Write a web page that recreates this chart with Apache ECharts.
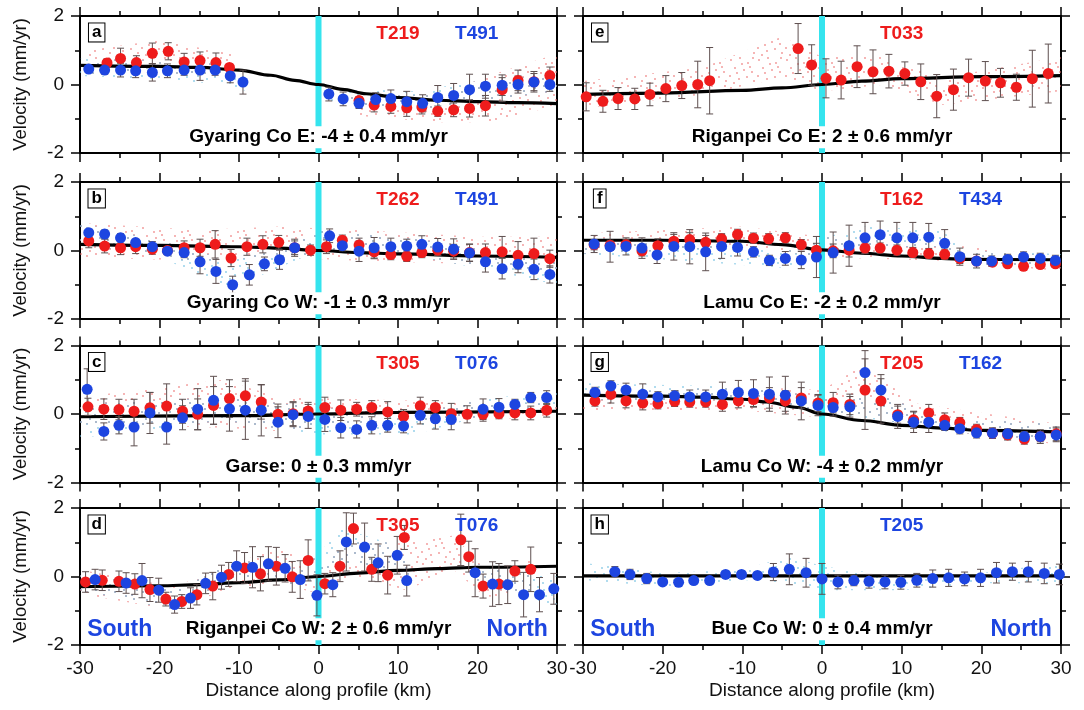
<!DOCTYPE html>
<html><head><meta charset="utf-8">
<script src="https://cdn.jsdelivr.net/npm/echarts@6/dist/echarts.min.js"></script>
<style>html,body{margin:0;padding:0;background:#fff}#c{width:1084px;height:710px}</style>
</head><body><div id="c"></div>
<script>
// ---------- axes ----------
const X_RANGE = [-30, 30];
const Y_RANGE = [-2, 2];
const X_STEP = 10;
const Y_STEP = 2;
const X_NAME = 'Distance along profile (km)';
const Y_NAME = 'Velocity (mm/yr)';

// ---------- panel a ----------
const aRed = [[-26.6,0.63,0.12],[-24.9,0.76,0.3],[-22.9,0.64,0.2],[-20.9,0.91,0.3],[-18.9,0.97,0.25],[-16.9,0.66,0.25],[-14.9,0.7,0.25],[-12.9,0.64,0.28],[-11.2,0.5,0.1],
 [5.1,-0.47,0.12],[7.0,-0.6,0.2],[9.1,-0.64,0.2],[11.1,-0.68,0.25],[13.0,-0.66,0.2],[15.0,-0.78,0.15],[17.0,-0.74,0.2],[19.0,-0.7,0.25],[21.0,-0.62,0.3],[23.1,-0.15,0.35],[25.1,0.12,0.3],[27.1,0.08,0.3],[29.1,0.26,0.25]];
const aBlue = [[-28.9,0.45,0.1],[-26.9,0.42,0.12],[-24.9,0.42,0.2],[-23.0,0.4,0.2],[-20.9,0.35,0.25],[-19.0,0.4,0.2],[-16.9,0.42,0.15],[-14.9,0.42,0.3],[-13.0,0.42,0.15],[-11.1,0.25,0.2],[-9.5,0.07,0.35],
 [1.3,-0.28,0.2],[3.1,-0.42,0.2],[5.1,-0.55,0.15],[7.2,-0.44,0.2],[9.1,-0.41,0.25],[11.1,-0.5,0.3],[13.1,-0.55,0.25],[15.0,-0.38,0.35],[17.0,-0.32,0.35],[19.0,-0.15,0.45],[21.0,-0.05,0.35],[23.1,-0.02,0.3],[25.1,0.0,0.25],[27.1,0.07,0.25],[29.1,0.0,0.2]];
const aModel = [[-30,0.56],[-20,0.53],[-15,0.5],[-10,0.42],[-6,0.27],[-3,0.12],[0,0],[3,-0.14],[6,-0.27],[10,-0.38],[15,-0.46],[20,-0.5],[25,-0.53],[30,-0.56]];
const aRedCloud = [[[-29,0.3,1.0],[-20,0.3,1.3],[-11,0.2,0.9]],[[4,-0.9,-0.3],[15,-1.1,-0.3],[22,-1.1,0.3],[30,-0.6,0.9]]];
const aBlueCloud = [[[-30,0.25,0.75],[-20,0.15,0.7],[-12,0.0,0.6],[-9,-0.2,0.3]],[[1,-0.5,-0.1],[12,-0.8,-0.2],[20,-0.5,0.1],[30,-0.2,0.3]]];

// ---------- panel b ----------
const bRed = [[-28.9,0.28,0.2],[-26.9,0.13,0.2],[-24.9,0.08,0.2],[-23.0,0.11,0.2],[-20.9,0.04,0.15],[-19.0,0.0,0.12],[-16.9,0.08,0.2],[-14.9,0.08,0.25],[-13.0,0.18,0.4],[-11.0,-0.22,0.25],[-9.0,0.11,0.25],[-7.0,0.18,0.25],[-5.0,0.24,0.2],[-3.0,0.08,0.2],[-1.0,0.01,0.15],[1.0,0.11,0.2],[3.0,0.3,0.15],[5.1,0.16,0.2],[7.0,-0.04,0.2],[9.1,-0.12,0.15],[11.1,-0.17,0.15],[13.0,-0.06,0.15],[15.0,0.01,0.15],[17.0,-0.02,0.2],[19.0,-0.06,0.25],[21.0,-0.06,0.25],[23.1,-0.04,0.45],[25.1,-0.14,0.4],[27.1,-0.09,0.45],[29.1,-0.24,0.25]];
const bBlue = [[-28.9,0.52,0.1],[-26.9,0.48,0.12],[-24.9,0.37,0.12],[-23.0,0.23,0.1],[-20.9,0.11,0.15],[-19.0,-0.02,0.1],[-16.9,-0.06,0.15],[-14.9,-0.33,0.35],[-12.9,-0.61,0.35],[-10.8,-1.0,0.25],[-8.7,-0.71,0.3],[-6.8,-0.39,0.2],[-4.9,-0.27,0.28],[-3.0,0.08,0.25],[1.4,0.43,0.2],[3.0,0.14,0.15],[5.1,-0.02,0.3],[7.0,0.08,0.3],[9.1,0.11,0.25],[11.1,0.13,0.2],[13.0,0.18,0.25],[15.0,0.1,0.25],[17.0,0.04,0.3],[19.0,-0.07,0.25],[21.0,-0.33,0.3],[23.1,-0.53,0.3],[25.1,-0.4,0.25],[27.1,-0.55,0.3],[29.1,-0.7,0.25]];
const bModel = [[-30,0.18],[-20,0.15],[-10,0.11],[-5,0.07],[0,0.0],[5,-0.06],[10,-0.1],[20,-0.16],[30,-0.2]];
const bRedCloud = [[[-30,-0.2,0.8],[-15,-0.3,0.6],[-5,-0.2,0.7],[5,-0.3,0.6],[20,-0.4,0.4],[30,-0.6,0.4]]];
const bBlueCloud = [[[-30,0.2,0.8],[-20,-0.2,0.3],[-11,-1.1,-0.3],[-5,-0.5,0.1],[0,0,0.6],[10,-0.1,0.4],[20,-0.5,0.1],[30,-1.0,-0.3]]];

// ---------- panel c ----------
const cRed = [[-29.0,0.21,0.25],[-27.0,0.14,0.3],[-25.1,0.13,0.3],[-23.2,0.08,0.35],[-21.2,0.18,0.45],[-19.1,0.23,0.65],[-17.1,0.08,0.35],[-15.2,-0.01,0.45],[-13.2,0.25,0.55],[-11.2,0.45,0.55],[-9.2,0.53,0.5],[-7.2,0.35,0.5],[-5.1,-0.01,0.3],[-3.2,0.01,0.35],[-1.3,0.09,0.25],[0.8,0.19,0.3],[2.8,0.11,0.3],[4.8,0.14,0.2],[6.7,0.19,0.2],[8.7,0.06,0.3],[10.7,-0.07,0.2],[12.8,0.24,0.25],[14.7,0.19,0.2],[16.7,0.01,0.3],[18.7,-0.01,0.25],[20.7,-0.01,0.2],[22.7,0.01,0.15],[24.7,0.03,0.2],[26.7,0.03,0.2],[28.7,0.11,0.2]];
const cBlue = [[-29.1,0.72,0.6],[-27.0,-0.51,0.25],[-25.1,-0.33,0.25],[-23.2,-0.38,0.55],[-21.2,0.03,0.6],[-19.1,-0.38,0.5],[-17.1,-0.11,0.35],[-15.2,0.14,0.6],[-13.2,0.4,0.7],[-11.2,0.15,0.65],[-9.2,0.11,0.85],[-7.2,0.11,0.75],[-5.1,-0.24,0.45],[-3.2,-0.02,0.35],[-1.3,-0.07,0.35],[0.8,-0.16,0.35],[2.8,-0.4,0.3],[4.8,-0.45,0.25],[6.7,-0.33,0.25],[8.7,-0.33,0.2],[10.7,-0.35,0.2],[12.8,-0.04,0.25],[14.7,-0.14,0.3],[16.7,-0.16,0.3],[20.7,0.14,0.3],[22.7,0.2,0.25],[24.7,0.28,0.15],[26.7,0.48,0.15],[28.7,0.48,0.2]];
const cModel = [[-30,-0.08],[-10,-0.05],[0,0],[10,0.05],[30,0.08]];
const cRedCloud = [[[-30,-0.3,0.5],[-12,-0.4,1.0],[-5,-0.5,0.5],[10,-0.2,0.4],[30,-0.1,0.3]]];
const cBlueCloud = [[[-30,-0.7,0.3],[-12,-0.2,0.5],[0,-0.6,0.2],[12,-0.6,0],[20,-0.1,0.4],[30,0.2,0.7]]];

// ---------- panel d ----------
const dRed = [[-29.3,-0.16,0.3],[-27.2,-0.11,0.3],[-25.1,-0.14,0.3],[-23.1,-0.22,0.3],[-21.2,-0.38,0.35],[-19.2,-0.66,0.2],[-17.2,-0.73,0.2],[-15.3,-0.53,0.3],[-13.3,-0.28,0.4],[-11.3,0.06,0.35],[-9.3,0.25,0.45],[-7.3,0.08,0.5],[-5.3,0.3,0.55],[-3.3,-0.01,0.45],[-1.3,0.47,0.6],[0.8,-0.21,0.3],[2.7,0.3,0.45],[4.4,1.4,0.45],[6.7,0.21,0.35],[8.7,0.04,0.55],[10.8,1.14,0.35],[17.9,1.07,0.75],[18.9,0.58,0.45],[20.7,-0.28,0.35],[22.7,-0.22,0.6],[24.7,0.16,0.3],[26.7,0.21,0.65]];
const dBlue = [[-28.1,-0.09,0.3],[-24.2,-0.19,0.3],[-22.2,-0.12,0.5],[-20.1,-0.4,0.35],[-18.1,-0.82,0.25],[-16.1,-0.63,0.3],[-14.2,-0.2,0.3],[-12.2,-0.02,0.35],[-10.3,0.3,0.45],[-8.3,0.27,0.6],[-6.3,0.37,0.5],[-4.2,0.24,0.4],[-2.3,-0.09,0.55],[-0.2,-0.55,0.6],[1.8,-0.24,0.35],[3.5,1.01,0.85],[5.8,0.86,0.7],[7.5,0.4,0.55],[9.9,0.62,0.55],[11.1,-0.12,0.45],[19.7,0.11,0.7],[21.9,-0.22,0.65],[23.8,-0.24,0.55],[25.8,-0.53,0.65],[27.8,-0.53,0.5],[29.6,-0.36,0.45]];
const dModel = [[-30,-0.3],[-20,-0.27],[-15,-0.24],[-10,-0.18],[-5,-0.1],[0,0],[5,0.1],[10,0.18],[15,0.23],[20,0.27],[30,0.3]];
const dRedCloud = [[[-30,-0.5,0.2],[-18,-1.0,-0.3],[-12,-0.4,0.3],[-5,-0.2,0.8],[0,-0.5,0.5],[5,0,1.0],[11,-0.4,1.0],[17,0.2,1.2],[21,-0.6,0.2],[27,-0.5,0.5]]];
const dBlueCloud = [[[-30,-0.4,0.1],[-18,-1.0,-0.4],[-10,0,0.5],[-2,-0.3,0.2],[3,0.4,1.4],[10,0.2,0.9],[12,-0.4,0.1]],[[19,-0.1,0.4],[30,-0.9,0]]];

// ---------- panel e ----------
const eRed = [[-29.6,-0.36,0.41],[-27.5,-0.49,0.32],[-25.6,-0.41,0.32],[-23.5,-0.42,0.31],[-21.6,-0.29,0.33],[-19.6,-0.12,0.38],[-17.6,-0.03,0.38],[-15.6,0.0,0.68],[-14.1,0.11,0.97],[-3.0,1.05,0.73],[-1.3,0.57,0.59],[0.5,0.18,0.57],[2.4,0.13,0.55],[4.4,0.52,0.61],[6.4,0.37,0.64],[8.4,0.39,0.49],[10.4,0.32,0.34],[12.4,0.08,0.52],[14.4,-0.34,0.63],[16.5,-0.15,0.6],[18.4,0.2,0.54],[20.5,0.1,0.57],[22.4,0.05,0.42],[24.4,-0.08,0.38],[26.4,0.17,0.83],[28.4,0.32,0.86]];
const eBlue = [];
const eModel = [[-30,-0.29],[-20,-0.25],[-10,-0.17],[-5,-0.1],[0,0],[5,0.1],[10,0.17],[20,0.23],[30,0.26]];
const eRedCloud = [[[-30,-0.7,0.1],[-15,-0.3,0.5],[-5,0.2,1.4],[0,-0.2,0.8],[8,0,0.8],[15,-0.6,0.2],[30,-0.2,0.8]]];
const eBlueCloud = [];

// ---------- panel f ----------
const fRed = [[-28.6,0.17,0.15],[-26.6,0.15,0.15],[-24.6,0.17,0.15],[-22.6,-0.01,0.15],[-20.6,0.14,0.2],[-18.6,0.27,0.2],[-16.6,0.32,0.2],[-14.6,0.24,0.2],[-12.6,0.34,0.15],[-10.6,0.47,0.15],[-8.6,0.36,0.15],[-6.7,0.34,0.15],[-4.6,0.37,0.15],[-2.6,0.17,0.15],[-0.7,0.01,0.2],[1.4,-0.01,0.2],[3.4,0.01,0.2],[5.4,0.07,0.15],[7.3,0.07,0.15],[9.4,0.01,0.15],[11.4,-0.06,0.15],[13.4,-0.09,0.15],[15.4,-0.11,0.15],[17.3,-0.23,0.15],[19.4,-0.31,0.1],[21.4,-0.34,0.1],[23.3,-0.39,0.1],[25.3,-0.46,0.1],[27.4,-0.41,0.1],[29.3,-0.39,0.1]];
const fBlue = [[-28.6,0.19,0.25],[-26.6,0.11,0.45],[-24.6,0.12,0.25],[-22.6,0.07,0.3],[-20.7,-0.13,0.25],[-18.6,0.12,0.4],[-16.6,0.11,0.5],[-14.6,-0.04,0.55],[-12.6,0.12,0.35],[-10.6,0.09,0.25],[-8.6,-0.04,0.15],[-6.6,-0.29,0.15],[-4.6,-0.23,0.2],[-2.6,-0.28,0.25],[-0.7,-0.19,0.6],[1.4,-0.06,0.6],[3.4,0.14,0.6],[5.4,0.37,0.45],[7.3,0.46,0.4],[9.4,0.37,0.45],[11.4,0.37,0.45],[13.4,0.39,0.4],[15.4,0.21,0.4],[17.3,-0.18,0.25],[19.4,-0.31,0.2],[21.3,-0.31,0.15],[23.3,-0.26,0.15],[25.3,-0.19,0.15],[27.4,-0.23,0.15],[29.3,-0.29,0.15]];
const fModel = [[-30,0.3],[-20,0.3],[-10,0.27],[-5,0.17],[0,0.02],[5,-0.08],[10,-0.16],[15,-0.23],[18,-0.26],[30,-0.27]];
const fRedCloud = [[[-30,-0.1,0.5],[-10,0.1,0.7],[0,-0.2,0.4],[15,-0.3,0.2],[30,-0.6,-0.2]]];
const fBlueCloud = [[[-30,-0.1,0.4],[-5,-0.5,0],[5,0.1,0.7],[15,0.1,0.6],[18,-0.4,0],[30,-0.5,-0.1]]];

// ---------- panel g ----------
const gRed = [[-28.5,0.38,0.15],[-26.5,0.57,0.25],[-24.6,0.38,0.2],[-22.5,0.32,0.2],[-20.6,0.3,0.15],[-18.5,0.37,0.15],[-16.6,0.35,0.15],[-14.6,0.35,0.15],[-12.5,0.28,0.2],[-10.5,0.38,0.2],[-8.6,0.42,0.2],[-6.6,0.47,0.3],[-4.6,0.38,0.3],[-2.6,0.47,0.3],[-0.5,0.32,0.25],[1.4,0.33,0.3],[3.5,0.28,0.3],[5.4,0.7,1.15],[7.4,0.38,0.65],[9.5,-0.02,0.25],[11.5,-0.17,0.25],[13.4,0.03,0.25],[15.4,-0.17,0.2],[17.3,-0.25,0.15],[19.4,-0.45,0.15],[21.4,-0.56,0.15],[23.3,-0.61,0.15],[25.4,-0.73,0.15],[27.4,-0.66,0.15],[29.4,-0.58,0.2]];
const gBlue = [[-28.5,0.63,0.15],[-26.5,0.82,0.15],[-24.6,0.7,0.2],[-22.5,0.58,0.3],[-20.6,0.5,0.15],[-18.5,0.53,0.15],[-16.6,0.5,0.2],[-14.6,0.5,0.2],[-12.5,0.58,0.35],[-10.5,0.63,0.35],[-8.6,0.6,0.4],[-6.6,0.58,0.5],[-4.6,0.55,0.55],[-2.6,0.38,0.55],[-0.5,0.25,0.3],[1.4,0.19,0.25],[3.5,0.21,0.3],[5.4,1.21,0.4],[7.4,0.7,0.45],[9.5,-0.07,0.35],[11.5,-0.24,0.3],[13.4,-0.24,0.3],[15.4,-0.33,0.15],[17.3,-0.43,0.15],[19.4,-0.55,0.15],[21.4,-0.56,0.15],[23.3,-0.58,0.15],[25.4,-0.66,0.15],[27.4,-0.66,0.2],[29.4,-0.61,0.2]];
const gModel = [[-30,0.55],[-20,0.52],[-15,0.49],[-10,0.43],[-7,0.35],[-3,0.19],[0,0.0],[5,-0.19],[10,-0.33],[15,-0.41],[20,-0.48],[30,-0.53]];
const gRedCloud = [[[-30,0.1,0.6],[-10,0.1,0.8],[0,-0.1,0.7],[5,0,1.4],[12,-0.4,0.3],[30,-0.9,-0.3]]];
const gBlueCloud = [[[-30,0.4,0.9],[-10,0.4,0.8],[0,0,0.5],[8,-0.2,0.5],[15,-0.5,-0.1],[30,-0.8,-0.3]]];

// ---------- panel h ----------
const hRed = [];
const hBlue = [[-26.0,0.14,0.15],[-24.1,0.06,0.15],[-22.0,-0.06,0.15],[-20.0,-0.16,0.05],[-18.0,-0.17,0.05],[-16.1,-0.12,0.05],[-14.1,-0.12,0.05],[-12.1,0.06,0.08],[-10.1,0.06,0.1],[-8.1,0.03,0.05],[-6.1,0.13,0.25],[-4.1,0.21,0.45],[-2.0,0.11,0.42],[0,-0.07,0.45],[2.0,-0.16,0.2],[4.0,-0.12,0.15],[5.9,-0.14,0.2],[7.9,-0.16,0.2],[9.9,-0.17,0.2],[11.9,-0.11,0.2],[13.9,-0.06,0.25],[15.9,-0.04,0.25],[17.9,-0.07,0.2],[19.9,-0.04,0.25],[21.9,0.11,0.3],[23.9,0.14,0.25],[25.9,0.14,0.3],[27.9,0.09,0.3],[29.8,0.06,0.3]];
const hModel = [[-30,0.02],[30,0.02]];
const hRedCloud = [];
const hBlueCloud = [[[-30,-0.1,0.4],[-20,-0.3,0.1],[-10,-0.1,0.2],[-4,-0.2,0.6],[0,-0.4,0.3],[10,-0.4,0],[20,-0.2,0.1],[30,-0.2,0.4]]];

// ---------- fault trace (x = 0) ----------
const faultTrace = [[0, -2], [0, 2]];

// ---------- annotations ----------
const letters = ['a','b','c','d','e','f','g','h'];
const titles = ['Gyaring Co E: -4 ± 0.4 mm/yr','Gyaring Co W: -1 ± 0.3 mm/yr','Garse: 0 ± 0.3 mm/yr','Riganpei Co W: 2 ± 0.6 mm/yr',
                'Riganpei Co E: 2 ± 0.6 mm/yr','Lamu Co E: -2 ± 0.2 mm/yr','Lamu Co W: -4 ± 0.2 mm/yr','Bue Co W: 0 ± 0.4 mm/yr'];
const redTracks = ['T219','T262','T305','T305','T033','T162','T205',''];
const blueTracks = ['T491','T491','T076','T076','','T434','T162','T205'];
const dirLabels = ['South','North'];

// ---------- build ----------
const RED = '#ee1c1c', BLUE = '#1d45e0', ERR = '#5e4f4f', CYAN = '#35e4ee';
const FONT = 'Liberation Sans, Arial, Helvetica, sans-serif';
const reds = [aRed,bRed,cRed,dRed,eRed,fRed,gRed,hRed];
const blues = [aBlue,bBlue,cBlue,dBlue,eBlue,fBlue,gBlue,hBlue];
const models = [aModel,bModel,cModel,dModel,eModel,fModel,gModel,hModel];
const redClouds = [aRedCloud,bRedCloud,cRedCloud,dRedCloud,eRedCloud,fRedCloud,gRedCloud,hRedCloud];
const blueClouds = [aBlueCloud,bBlueCloud,cBlueCloud,dBlueCloud,eBlueCloud,fBlueCloud,gBlueCloud,hBlueCloud];

function makePattern(color) {
  const c = document.createElement('canvas');
  c.width = 28; c.height = 28;
  const ctx = c.getContext('2d');
  ctx.fillStyle = color;
  const spots = [[3,4],[12,2],[20,7],[25,2],[7,12],[16,14],[24,16],[2,20],[11,23],[19,21],[26,25],[6,27],[14,8],[9,17],[22,11]];
  spots.forEach(p => { ctx.beginPath(); ctx.arc(p[0], p[1], 0.9, 0, Math.PI * 2); ctx.fill(); });
  return { image: c, repeat: 'repeat' };
}
const redPat = makePattern('rgba(236,110,110,0.75)');
const bluePat = makePattern('rgba(110,190,225,0.8)');

const COL_LEFT = [80, 583], COL_W = [477, 478];
const ROW_TOP = [16, 182, 345.5, 508], ROW_H = 137;

const grids = [], xAxes = [], yAxes = [], series = [];
const axisLine = { show: true, onZero: false, lineStyle: { color: '#000', width: 2 } };
for (let i = 0; i < 8; i++) {
  const col = i < 4 ? 0 : 1, row = i % 4;
  grids.push({ left: COL_LEFT[col], top: ROW_TOP[row], width: COL_W[col], height: ROW_H });
  const bottomRow = row === 3, leftCol = col === 0;
  const xBase = { type: 'value', gridIndex: i, min: X_RANGE[0], max: X_RANGE[1], interval: X_STEP,
    axisLine, splitLine: { show: false },
    axisTick: { show: true, length: 9, lineStyle: { color: '#000', width: 1.5 } },
    minorTick: { show: true, splitNumber: 2, length: 5, lineStyle: { color: '#000', width: 1.5 } } };
  xAxes.push(Object.assign({}, xBase, { position: 'bottom',
    axisLabel: { show: bottomRow, fontSize: 19, color: '#111', fontFamily: FONT, margin: 14 },
    name: bottomRow ? X_NAME : '', nameLocation: 'middle', nameGap: 36,
    nameTextStyle: { fontSize: 19, color: '#111', fontFamily: FONT } }));
  xAxes.push(Object.assign({}, xBase, { position: 'top', axisLabel: { show: false } }));
  const yBase = { type: 'value', gridIndex: i, min: Y_RANGE[0], max: Y_RANGE[1], interval: Y_STEP,
    axisLine, splitLine: { show: false },
    axisTick: { show: true, length: 9, lineStyle: { color: '#000', width: 1.5 } },
    minorTick: { show: true, splitNumber: 2, length: 5, lineStyle: { color: '#000', width: 1.5 } } };
  yAxes.push(Object.assign({}, yBase, { position: 'left',
    axisLabel: { show: leftCol, fontSize: 19, color: '#111', fontFamily: FONT, margin: 16 },
    name: leftCol ? Y_NAME : '', nameLocation: 'middle', nameGap: 50, nameRotate: 90,
    nameTextStyle: { fontSize: 18.5, color: '#111', fontFamily: FONT } }));
  yAxes.push(Object.assign({}, yBase, { position: 'right', axisLabel: { show: false } }));

  const xi = 2 * i, yi = 2 * i;
  const cloud = (polys, pat) => polys.length && series.push({
    type: 'custom', xAxisIndex: xi, yAxisIndex: yi, silent: true, z: 1, clip: true,
    data: polys.map((pg, k) => [pg[0][0], pg[0][1], k]), encode: { x: 0, y: 1 },
    renderItem: (p, api) => {
      const pg = polys[api.value(2)];
      const up = pg.map(d => api.coord([d[0], d[2]]));
      const lo = pg.slice().reverse().map(d => api.coord([d[0], d[1]]));
      return { type: 'polygon', shape: { points: up.concat(lo) }, style: { fill: pat } };
    } });
  cloud(redClouds[i], redPat);
  cloud(blueClouds[i], bluePat);

  series.push({ type: 'line', xAxisIndex: xi, yAxisIndex: yi, data: faultTrace, symbol: 'none', silent: true, z: 2,
    lineStyle: { color: CYAN, width: 6, opacity: 1 } });
  series.push({ type: 'line', xAxisIndex: xi, yAxisIndex: yi, data: models[i], symbol: 'none', silent: true, z: 3,
    smooth: 0.35, smoothMonotone: 'x', lineStyle: { color: '#000', width: 3.2, opacity: 1 } });

  const errSeries = (arr) => arr.length && series.push({
    type: 'custom', xAxisIndex: xi, yAxisIndex: yi, silent: true, z: 4, data: arr, encode: { x: 0, y: 1 },
    renderItem: (p, api) => {
      const x = api.value(0), y = api.value(1), e = api.value(2);
      const t = api.coord([x, y + e]), b = api.coord([x, y - e]);
      const w = 3.5, st = { stroke: ERR, lineWidth: 1 };
      return { type: 'group', children: [
        { type: 'line', shape: { x1: t[0], y1: t[1], x2: b[0], y2: b[1] }, style: st },
        { type: 'line', shape: { x1: t[0] - w, y1: t[1], x2: t[0] + w, y2: t[1] }, style: st },
        { type: 'line', shape: { x1: b[0] - w, y1: b[1], x2: b[0] + w, y2: b[1] }, style: st } ] };
    } });
  errSeries(reds[i]);
  errSeries(blues[i]);
  if (reds[i].length) series.push({ type: 'scatter', xAxisIndex: xi, yAxisIndex: yi, data: reds[i].map(d => [d[0], d[1]]),
    symbolSize: 11, itemStyle: { color: RED, opacity: 1 }, silent: true, z: 5 });
  if (blues[i].length) series.push({ type: 'scatter', xAxisIndex: xi, yAxisIndex: yi, data: blues[i].map(d => [d[0], d[1]]),
    symbolSize: 11, itemStyle: { color: BLUE, opacity: 1 }, silent: true, z: 6 });

  const txt = [];
  const bold = { fontFamily: FONT, fontWeight: 'bold', fontSize: 19, opacity: 1 };
  txt.push({ value: [-27.9, 1.52], label: Object.assign({}, bold, { formatter: letters[i], fontSize: 17, color: '#000',
    backgroundColor: '#fff', borderColor: '#000', borderWidth: 1, padding: [1, 3, 0, 3] }) });
  if (redTracks[i]) txt.push({ value: [10, 1.47], label: Object.assign({}, bold, { formatter: redTracks[i], color: RED }) });
  if (blueTracks[i]) txt.push({ value: [i === 7 ? 10 : 19.9, 1.47], label: Object.assign({}, bold, { formatter: blueTracks[i], color: BLUE }) });
  txt.push({ value: [0, -1.54], label: Object.assign({}, bold, { formatter: titles[i], color: '#000',
    backgroundColor: '#fff', padding: [2, 3, 1, 3] }) });
  if (bottomRow) {
    txt.push({ value: [-25, -1.56], label: Object.assign({}, bold, { formatter: dirLabels[0], color: BLUE, fontSize: 23 }) });
    txt.push({ value: [25, -1.56], label: Object.assign({}, bold, { formatter: dirLabels[1], color: BLUE, fontSize: 23 }) });
  }
  series.push({ type: 'scatter', xAxisIndex: xi, yAxisIndex: yi, data: txt, symbolSize: 0, silent: true, z: 10,
    itemStyle: { opacity: 1 }, label: { show: true, position: 'inside', opacity: 1 } });
}

const chart = echarts.init(document.getElementById('c'), null, { renderer: 'canvas' });
chart.setOption({ animation: false, backgroundColor: '#fff', grid: grids, xAxis: xAxes, yAxis: yAxes, series });
</script></body></html>
